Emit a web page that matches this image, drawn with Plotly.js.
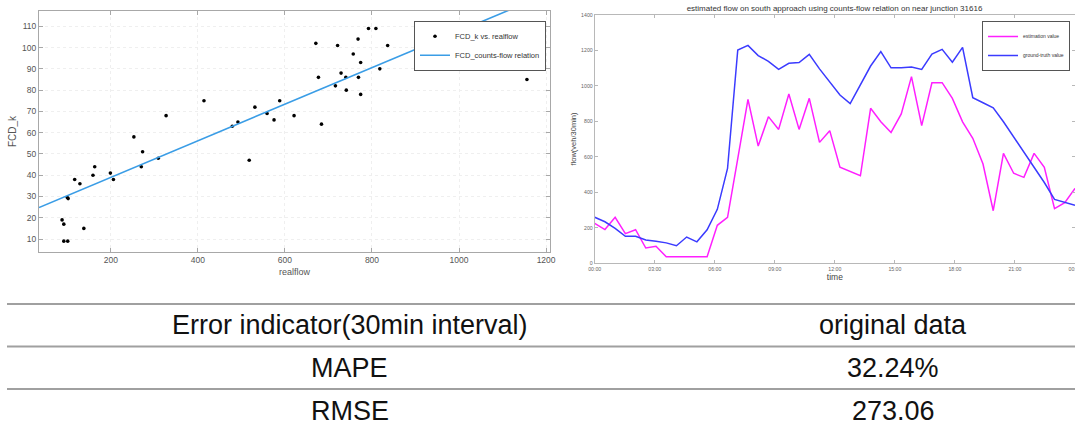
<!DOCTYPE html>
<html><head><meta charset="utf-8">
<script src="https://cdn.plot.ly/plotly-3.0.1.min.js"></script>
<style>html,body{margin:0;padding:0;background:#fff;overflow:hidden}#chart{width:1075px;height:428px}</style>
</head><body><div id="chart"></div>
<script>
// ---- scatter data: FCD_k vs realflow ----
const realflow = [88, 92, 92, 101, 100, 102, 117, 129, 138, 159, 163, 199, 206, 253, 270, 273, 309, 327, 414, 479, 492, 518, 531, 559, 575, 588, 621, 671, 677, 684, 716, 721, 729, 740, 741, 757, 768, 769, 774, 774, 792, 809, 818, 836, 936, 952, 1106, 1156];
const fcdK     = [19, 17, 9, 9, 29.5, 29, 38, 36, 15, 40, 44, 41, 38, 58, 44, 51, 48, 68, 75, 63, 65, 47, 72, 69, 66, 75, 68, 102, 86, 64, 82, 101, 88, 86, 80, 97, 104, 86, 93, 78, 109, 109, 90, 101, 111, 90, 94, 85];
// fitted counts-flow relation (end points of the fitted line)
const fitFlow = [35, 1209];
const fitFcd  = [24.8, 125.7];

// ---- line chart data: 48 half-hour values across the day ----
const estimation  = [225, 190, 259, 167, 189, 86, 96, 37, 37, 37, 37, 37, 214, 259, 590, 923, 660, 826, 754, 953, 754, 929, 681, 747, 541, 518, 493, 873, 797, 737, 841, 1051, 775, 1017, 1017, 929, 797, 704, 559, 296, 619, 507, 484, 619, 541, 308, 341, 422];
const groundTruth = [259, 234, 197, 152, 152, 131, 124, 115, 99, 148, 121, 189, 304, 534, 1201, 1227, 1170, 1137, 1092, 1126, 1131, 1177, 1095, 1020, 948, 900, 1004, 1111, 1192, 1101, 1101, 1105, 1092, 1178, 1205, 1132, 1216, 933, 904, 876, 797, 713, 625, 540, 455, 360, 342, 327];
const timeTickHours = [0, 3, 6, 9, 12, 15, 18, 21, 24];
const timeTickLabels = ["00:00", "03:00", "06:00", "09:00", "12:00", "15:00", "18:00", "21:00", "00:00"];

// ---- error table ----
const tableHeader = ["Error indicator(30min interval)", "original data"];
const tableIndicators = ["MAPE", "RMSE"];
const tableValues = ["32.24%", "273.06"];

const W = 1075, H = 428;
const px = v => v / W;
const py = v => 1 - v / H;
const hours = groundTruth.map((_, i) => i * 24 / (groundTruth.length - 1));

const traces = [
  {x: realflow, y: fcdK, mode: 'markers', name: 'FCD_k vs. realflow',
   marker: {color: '#000', size: 3.6}, xaxis: 'x', yaxis: 'y', legend: 'legend'},
  {x: fitFlow, y: fitFcd, mode: 'lines', name: 'FCD_counts-flow relation',
   line: {color: '#3a9de6', width: 1.6}, xaxis: 'x', yaxis: 'y', legend: 'legend'},
  {x: hours, y: estimation, mode: 'lines', name: 'estimation value',
   line: {color: '#ff1fff', width: 1.5}, xaxis: 'x2', yaxis: 'y2', legend: 'legend2'},
  {x: hours, y: groundTruth, mode: 'lines', name: 'ground-truth value',
   line: {color: '#3b3bff', width: 1.5}, xaxis: 'x2', yaxis: 'y2', legend: 'legend2'}
];

const axBase = {showline: true, linecolor: '#a8a8a8', linewidth: 1, mirror: 'ticks',
  ticks: 'inside', tickcolor: '#a8a8a8', zeroline: false, fixedrange: true};

const shapes = [304, 346.5, 389].map(y => ({type: 'line', xref: 'paper', yref: 'paper',
  x0: px(7), x1: 1, y0: py(y), y1: py(y), line: {color: '#a0a0a0', width: 2}}));

const tableFont = {family: 'Liberation Sans, Arial, sans-serif', size: 27, color: '#111'};
const rowY = [325, 368, 410.5];
const colX = [349.5, 893];
const annotations = [];
tableHeader.forEach((t, c) => annotations.push({text: t, x: px(colX[c]), y: py(rowY[0]), xref: 'paper', yref: 'paper', xanchor: 'center', yanchor: 'middle', showarrow: false, font: tableFont}));
tableIndicators.forEach((t, r) => {
  annotations.push({text: t, x: px(colX[0]), y: py(rowY[r + 1]), xref: 'paper', yref: 'paper', xanchor: 'center', yanchor: 'middle', showarrow: false, font: tableFont});
  annotations.push({text: tableValues[r], x: px(colX[1]), y: py(rowY[r + 1]), xref: 'paper', yref: 'paper', xanchor: 'center', yanchor: 'middle', showarrow: false, font: tableFont});
});

const layout = {
  width: W, height: H, margin: {l: 0, r: 0, t: 0, b: 0},
  paper_bgcolor: '#fff', plot_bgcolor: '#fff',
  font: {family: 'Liberation Sans, Arial, sans-serif', color: '#555'},
  showlegend: true,
  title: {text: 'estimated flow on south approach using counts-flow relation on near junction 31616',
    font: {size: 8, color: '#333'}, x: px(834.5), xanchor: 'center', xref: 'paper',
    y: py(8.3), yanchor: 'middle', yref: 'paper'},
  xaxis: Object.assign({}, axBase, {domain: [px(39), px(550)], range: [35, 1209], anchor: 'y',
    tickvals: [200, 400, 600, 800, 1000, 1200], ticklen: 4,
    showgrid: true, gridcolor: '#efefef', griddash: 'dot',
    tickfont: {size: 8.5, color: '#555'},
    title: {text: 'realflow', font: {size: 9, color: '#555'}, standoff: 4}}),
  yaxis: Object.assign({}, axBase, {domain: [py(252), py(11)], range: [3.9, 117.2], anchor: 'x',
    tickvals: [10, 20, 30, 40, 50, 60, 70, 80, 90, 100, 110], ticklen: 4,
    showgrid: true, gridcolor: '#efefef', griddash: 'dot',
    tickfont: {size: 8.5, color: '#555'},
    title: {text: 'FCD_k', font: {size: 10, color: '#555'}, standoff: 3}}),
  xaxis2: Object.assign({}, axBase, {domain: [px(594.7), 1], range: [0, 24.001], anchor: 'y2',
    tickvals: timeTickHours, ticktext: timeTickLabels, ticklen: 3, showgrid: false,
    linecolor: '#b8b8b8', tickcolor: '#b8b8b8', ticklabeloverflow: 'allow',
    tickfont: {size: 5.2, color: '#666'},
    title: {text: 'time', font: {size: 8.5, color: '#444'}, standoff: 3}}),
  yaxis2: Object.assign({}, axBase, {domain: [py(263.3), py(14.7)], range: [0, 1400], anchor: 'x2',
    tickvals: [0, 200, 400, 600, 800, 1000, 1200, 1400], ticklen: 3, showgrid: false,
    linecolor: '#b8b8b8', tickcolor: '#b8b8b8',
    tickfont: {size: 5.2, color: '#666'},
    title: {text: 'flow(veh/30min)', font: {size: 7.5, color: '#444'}, standoff: 3}}),
  legend: {x: px(546), xanchor: 'right', y: py(20.7), yanchor: 'top', xref: 'paper', yref: 'paper',
    bgcolor: '#fff', bordercolor: '#555', borderwidth: 1,
    font: {size: 7.5, color: '#333'}, tracegroupgap: 0, itemwidth: 30},
  legend2: {x: px(1070), xanchor: 'right', y: py(21), yanchor: 'top', xref: 'paper', yref: 'paper',
    bgcolor: '#fff', bordercolor: '#555', borderwidth: 1,
    font: {size: 5, color: '#333'}, tracegroupgap: 0, itemwidth: 30},
  shapes: shapes,
  annotations: annotations
};

Plotly.newPlot('chart', traces, layout, {staticPlot: true, displayModeBar: false});
</script>
</body></html>
